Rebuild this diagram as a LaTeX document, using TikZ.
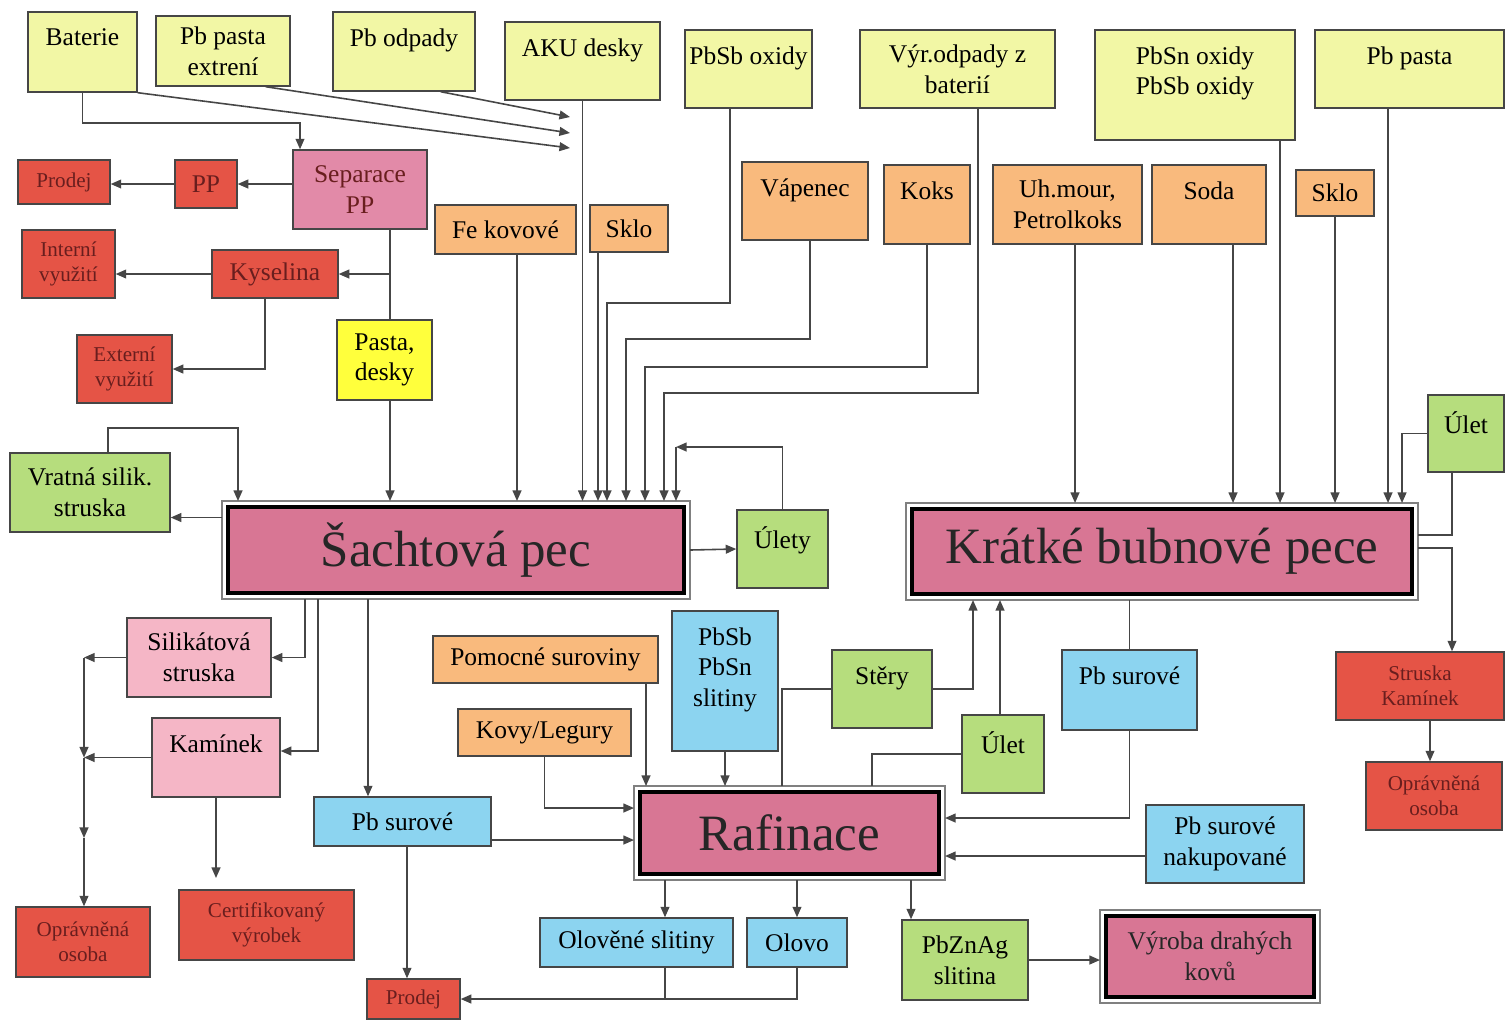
\documentclass[tikz,border=0pt]{standalone}
\usepackage{fontspec}
\setmainfont{Liberation Serif}
\usetikzlibrary{arrows.meta}

\definecolor{cyel}{RGB}{242,247,165}
\definecolor{cpasta}{RGB}{255,255,60}
\definecolor{corg}{RGB}{249,186,125}
\definecolor{cgrn}{RGB}{182,221,125}
\definecolor{cblu}{RGB}{140,212,240}
\definecolor{clpk}{RGB}{245,182,198}
\definecolor{csep}{RGB}{226,138,168}
\definecolor{cred}{RGB}{229,84,70}
\definecolor{credtxt}{RGB}{105,30,30}
\definecolor{cpec}{RGB}{216,118,148}
\definecolor{cline}{RGB}{70,70,70}

\newcommand{\fnorm}{\fontsize{14.5}{17.5}\selectfont}
\newcommand{\fsmall}{\fontsize{12}{14.5}\selectfont}
\newcommand{\fbig}{\fontsize{29}{32}\selectfont}

\tikzset{
  wh/.style 2 args={minimum width=#1*0.2mm, minimum height=#2*0.2mm},
  basebox/.style={draw=cline, line width=0.8pt, align=center, inner sep=1pt, font=\fnorm},
  yelbox/.style={basebox, fill=cyel},
  orgbox/.style={basebox, fill=corg},
  grnbox/.style={basebox, fill=cgrn},
  blubox/.style={basebox, fill=cblu},
  pnkbox/.style={basebox, fill=clpk},
  redbox/.style={basebox, fill=cred, text=credtxt, font=\fsmall},
  pecbox/.style={draw=black, line width=2.6pt, fill=cpec, align=center, outer sep=1.2mm, font=\fbig, text=black!85},
  pecframe/.style={draw=gray, line width=0.8pt},
  toptext/.style={label={[anchor=north, inner sep=3pt, yshift=-6.5pt, align=center, font=\fnorm]north:#1}},
  arr/.style={draw=cline, line width=0.9pt, -{Triangle[length=6pt,width=5pt]}},
  ln/.style={draw=cline, line width=0.9pt},
}

\begin{document}
\begin{tikzpicture}[x=0.2mm, y=-0.2mm]

    \useasboundingbox[fill=white] (0,0) rectangle (1505,1021);

    % Input materials (top row)
    \node[yelbox, wh={109}{80}, toptext={Baterie}] (bat) at (82.5,52) {};
    \node[yelbox, wh={134}{70}] (ppe) at (223,51) {Pb pasta\\extrení};
    \node[yelbox, wh={142}{79}, toptext={Pb odpady}] (pbo) at (404,51.5) {};
    \node[yelbox, wh={155}{78}, toptext={AKU desky}] (aku) at (582.5,61) {};
    \node[yelbox, wh={127}{78}, toptext={PbSb oxidy}] (pso) at (748.5,69) {};
    \node[yelbox, wh={195}{78}] (vyr) at (957.5,69) {Výr.odpady z\\baterií};
    \node[yelbox, wh={200}{110}, toptext={PbSn oxidy\\PbSb oxidy}] (psn) at (1195,85) {};
    \node[yelbox, wh={189}{78}, toptext={Pb pasta}] (pbp) at (1409.5,69) {};

    % Additives
    \node[orgbox, wh={141}{49}] (fek) at (505.5,229.5) {Fe kovové};
    \node[orgbox, wh={78}{47}] (skl) at (629,228.5) {Sklo};
    \node[orgbox, wh={126}{78}, toptext={Vápenec}] (vap) at (805,201) {};
    \node[orgbox, wh={86}{79}, toptext={Koks}] (kok) at (927,204.5) {};
    \node[orgbox, wh={149}{79}] (uhm) at (1067.5,204.5) {Uh.mour,\\Petrolkoks};
    \node[orgbox, wh={114}{79}, toptext={Soda}] (sod) at (1209,204.5) {};
    \node[orgbox, wh={78}{46}] (sk2) at (1335,193) {Sklo};

    % Separation of batteries
    \node[redbox, wh={92}{44}] (pr1) at (64,182) {Prodej};
    \node[redbox, wh={62}{48}, font=\fnorm] (pp) at (206,184) {PP};
    \node[basebox, fill=csep, text=credtxt, wh={134}{79}] (sep) at (360,189.5) {Separace\\PP};
    \node[redbox, wh={93}{68}] (int) at (68.5,264) {Interní\\využití};
    \node[redbox, wh={126}{48}, font=\fnorm] (kys) at (275,274) {Kyselina};
    \node[redbox, wh={95}{68}] (ext) at (124.5,369) {Externí\\využití};
    \node[basebox, fill=cpasta, wh={95}{80}] (pds) at (384.5,360) {Pasta,\\desky};

    % Furnaces
    \node[pecbox, wh={456}{86}] (sp) at (456,550) {Šachtová pec};
    \node[pecbox, wh={500}{85}] (kbp) at (1162,551.5) {Krátké bubnové pece};
    \node[pecbox, wh={299}{82}] (raf) at (789.5,833) {Rafinace};
    \node[pecbox, wh={208}{81}, font=\fnorm] (vdk) at (1210,956.5) {Výroba drahých\\kovů};
    \foreach \n in {sp,kbp,raf,vdk}
        \draw[pecframe] (\n.north west) rectangle (\n.south east);

    % Products and returns
    \node[grnbox, wh={160}{79}] (vrs) at (90,492.5) {Vratná silik.\\struska};
    \node[grnbox, wh={91}{78}, toptext={Úlety}] (uly) at (782.5,549) {};
    \node[grnbox, wh={76}{77}, toptext={Úlet}] (ul1) at (1466,433.5) {};
    \node[grnbox, wh={100}{78}, toptext={Stěry}] (ste) at (882,689) {};
    \node[grnbox, wh={82}{78}, toptext={Úlet}] (ul2) at (1003,754) {};
    \node[grnbox, wh={126}{80}] (pza) at (965,960) {PbZnAg\\slitina};
    \node[pnkbox, wh={144}{79}] (sil) at (199,657.5) {Silikátová\\struska};
    \node[pnkbox, wh={128}{79}, toptext={Kamínek}] (kam) at (216,757.5) {};
    \node[blubox, wh={106}{140}, toptext={PbSb\\PbSn\\slitiny}] (pss) at (725,681) {};
    \node[blubox, wh={135}{80}, toptext={Pb surové}] (pb2) at (1129.5,690) {};
    \node[blubox, wh={177}{49}] (pb1) at (402.5,821.5) {Pb surové};
    \node[blubox, wh={158}{78}] (pbn) at (1225,844) {Pb surové\\nakupované};
    \node[blubox, wh={193}{49}] (ols) at (636.5,942.5) {Olověné slitiny};
    \node[blubox, wh={100}{49}] (olv) at (797,942.5) {Olovo};
    \node[orgbox, wh={225}{47}] (pom) at (545.5,659.5) {Pomocné suroviny};
    \node[orgbox, wh={173}{47}] (kov) at (544.5,732.5) {Kovy/Legury};
    \node[redbox, wh={168}{68}] (stk) at (1420,686) {Struska\\Kamínek};
    \node[redbox, wh={136}{68}] (op2) at (1434,796) {Oprávněná\\osoba};
    \node[redbox, wh={134}{70}] (op1) at (83,942) {Oprávněná\\osoba};
    \node[redbox, wh={175}{70}] (cer) at (266.5,925) {Certifikovaný\\výrobek};
    \node[redbox, wh={93}{40}] (pr2) at (413.5,999) {Prodej};

    % Bend points
    \coordinate (k0) at (300,123);
    \coordinate (in1) at (570,148);
    \coordinate (in2) at (570,133);
    \coordinate (in3) at (570,117);
    \coordinate (k1) at (607,303);
    \coordinate (k2) at (626,339);
    \coordinate (k3) at (645,367);
    \coordinate (k4) at (664,393);
    \coordinate (k5) at (676,447);
    \coordinate (k7) at (238,428);
    \coordinate (lft) at (84,0);
    \coordinate (k8) at (84,838);
    \coordinate (k9) at (216,878);

    % Battery lines
    \draw[arr] (bat.south) |- (k0) -- (k0 |- sep.north);
    \draw[arr] (bat.south east) -- (in1);
    \draw[arr] ([xshift=-5mm]ppe.south east) -- (in2);
    \draw[arr] ([xshift=-7mm]pbo.south east) -- (in3);
    \draw[arr] (pp.east -| sep.west) -- (pp.east);
    \draw[arr] (pp.west) -- (pp.west -| pr1.east);
    \draw[ln] ([xshift=6mm]sep.south) -- ([xshift=6mm]sep.south |- pds.north);
    \draw[arr] ([xshift=6mm]sep.south |- kys.east) -- (kys.east);
    \draw[arr] (kys.west) -- (kys.west -| int.east);
    \draw[arr] ([xshift=-2mm]kys.south) |- (ext.east);

    % Inputs of the shaft furnace
    \draw[arr] ([xshift=1.1mm]pds.south) -- ([xshift=1.1mm]pds.south |- sp.north);
    \draw[arr] ([xshift=2.3mm]fek.south) -- ([xshift=2.3mm]fek.south |- sp.north);
    \draw[arr] (aku.south) -- (aku.south |- sp.north);
    \draw[arr] ([xshift=-6.2mm]skl.south) -- ([xshift=-6.2mm]skl.south |- sp.north);
    \draw[arr] ([xshift=-3.7mm]pso.south) |- (k1) -- (k1 |- sp.north);
    \draw[arr] ([xshift=1mm]vap.south) |- (k2) -- (k2 |- sp.north);
    \draw[arr] (kok.south) |- (k3) -- (k3 |- sp.north);
    \draw[arr] ([xshift=4.1mm]vyr.south) |- (k4) -- (k4 |- sp.north);
    \draw[arr] (uly.north) |- (k5);
    \draw[arr] (k5) -- (k5 |- sp.north);
    \draw[arr] ([xshift=3.6mm]vrs.north) |- (k7) -- (k7 |- sp.north);

    % Outputs of the shaft furnace
    \draw[arr] ([yshift=-5mm]vrs.east -| sp.west) -- ([yshift=-5mm]vrs.east);
    \draw[arr] (sp.east) -- (uly.west);
    \draw[arr] ([xshift=-30.2mm]sp.south) |- (sil.east);
    \draw[arr] ([xshift=-27.6mm]sp.south) |- ([yshift=1.3mm]kam.east);
    \draw[arr] ([xshift=-17.6mm]sp.south) -- ([xshift=-17.6mm]sp.south |- pb1.north);
    \draw[arr] (sil.west) -- (sil.west -| lft);
    \draw[arr] (sil.west -| lft) -- (kam.west -| lft);
    \draw[arr] (kam.west) -- (kam.west -| lft);
    \draw[arr] (kam.west -| lft) -- (k8);
    \draw[arr] (k8) -- (op1.north -| lft);
    \draw[arr] (kam.south) -- (k9);
    \draw[arr] ([xshift=0.9mm]pb1.south) -- ([xshift=0.9mm]pb1.south |- pr2.north);

    % Inputs of the short rotary furnaces
    \draw[arr] ([xshift=1.5mm]uhm.south) -- ([xshift=1.5mm]uhm.south |- kbp.north);
    \draw[arr] ([xshift=4.8mm]sod.south) -- ([xshift=4.8mm]sod.south |- kbp.north);
    \draw[arr] ([xshift=17mm]psn.south) -- ([xshift=17mm]psn.south |- kbp.north);
    \draw[arr] (sk2.south) -- (sk2.south |- kbp.north);
    \draw[arr] ([xshift=-4.3mm]pbp.south) -- ([xshift=-4.3mm]pbp.south |- kbp.north);
    \draw[arr] (ul1.west) -| ([xshift=48mm]kbp.north);
    \draw[ln] ([xshift=-2.8mm]ul1.south) |- ([yshift=3.3mm]kbp.east);
    \draw[arr] ([yshift=0.7mm]kbp.east) -| ([xshift=6.4mm]stk.north);
    \draw[arr] ([xshift=2mm]stk.south) -- ([xshift=2mm]stk.south |- op2.north);
    \draw[arr] (ste.east) -| ([xshift=-37.8mm]kbp.south);
    \draw[arr] ([xshift=-0.6mm]ul2.north) -- ([xshift=-0.6mm]ul2.north |- kbp.south);
    \draw[ln] (pb2.north) -- (pb2.north |- kbp.south);

    % Refining
    \draw[arr] ([yshift=-3.7mm]pb1.east) -- ([yshift=-3.7mm]pb1.east -| raf.west);
    \draw[arr] (kov.south) |- ([yshift=5mm]raf.west);
    \draw[arr] ([xshift=20.1mm]pom.south) -- ([xshift=20.1mm]pom.south |- raf.north);
    \draw[arr] (pss.south) -- (pss.south |- raf.north);
    \draw[ln] (ste.west) -| ([xshift=-1.5mm]raf.north);
    \draw[ln] (ul2.west) -| ([xshift=16.5mm]raf.north);
    \draw[arr] (pb2.south) |- ([yshift=3mm]raf.east);
    \draw[arr] ([yshift=-2.4mm]pbn.west) -- ([yshift=-2.4mm]pbn.west -| raf.east);
    \draw[arr] ([xshift=-24.9mm]raf.south) -- ([xshift=-24.9mm]raf.south |- ols.north);
    \draw[arr] (raf.south -| olv.north) -- (olv.north);
    \draw[arr] ([xshift=24.3mm]raf.south) -- ([xshift=24.3mm]raf.south |- pza.north);
    \draw[ln] ([xshift=5.7mm]ols.south) -- ([xshift=5.7mm]ols.south |- pr2.east);
    \draw[arr] (olv.south) |- (pr2.east);
    \draw[arr] (pza.east) -- (pza.east -| vdk.west);

\end{tikzpicture}
\end{document}
